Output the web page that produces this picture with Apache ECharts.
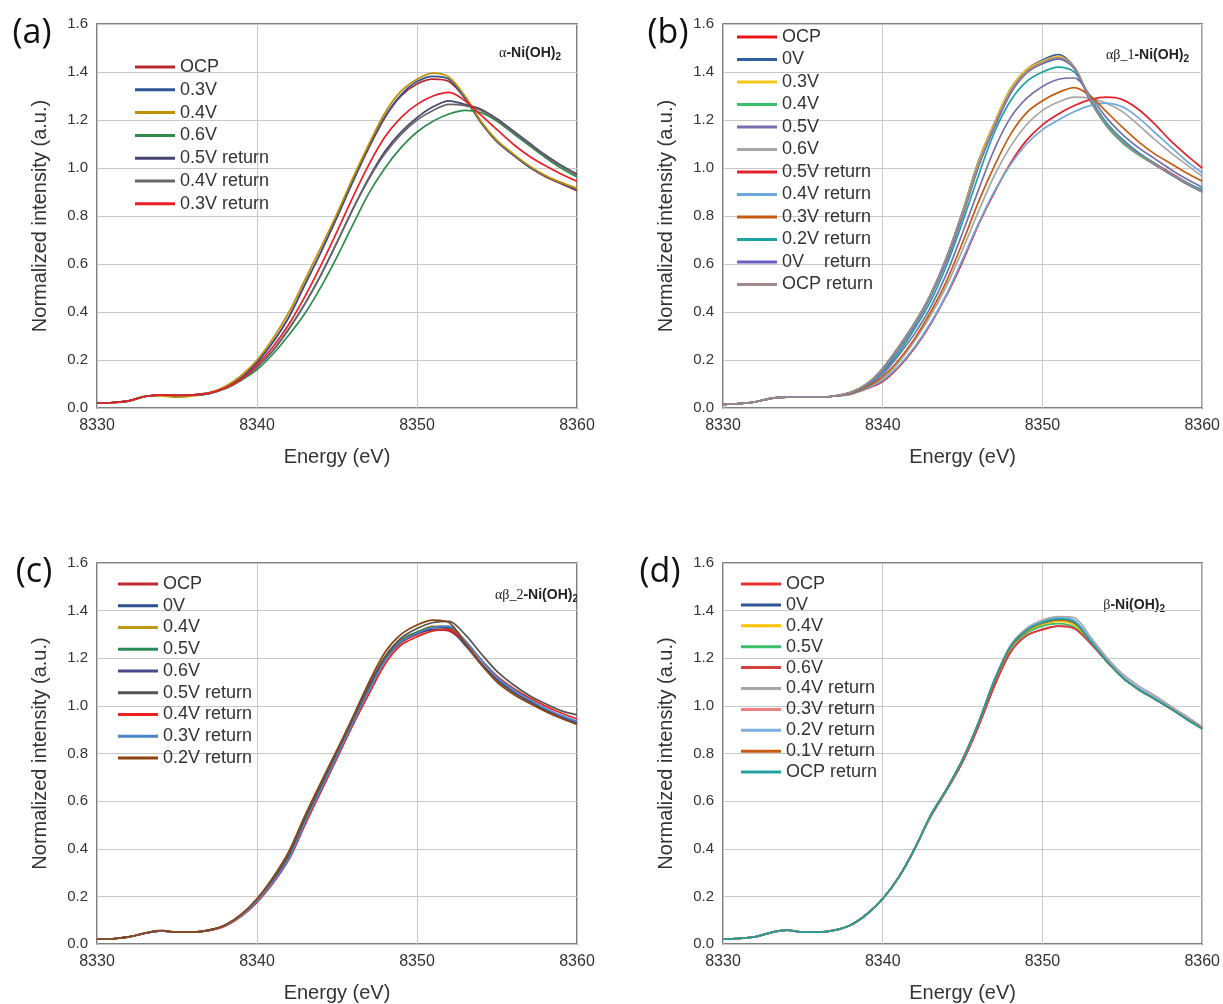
<!DOCTYPE html>
<html>
<head>
<meta charset="utf-8">
<script src="https://cdn.jsdelivr.net/npm/echarts@6/dist/echarts.min.js"></script>
<style>
  html, body { margin: 0; padding: 0; background: #fff; }
  #chart { width: 1223px; height: 1004px; }
</style>
</head>
<body>
<div id="chart"></div>
<script>
// energy axis (eV), shared by all four panels
const energy = [8330,8331,8332,8333,8334,8335,8336,8337,8338,8339,8340,8341,8342,8343,8344,8345,8346,8347,8348,8349,8350,8351,8352,8353,8354,8355,8356,8357,8358,8359,8360];
const xTicks = [8330, 8340, 8350, 8360];

// (a) alpha-Ni(OH)2
const aNames = ['OCP','0.3V','0.4V','0.6V','0.5V return','0.4V return','0.3V return'];
const aOCP = [0.02,0.023,0.03,0.048,0.055,0.05,0.055,0.063,0.085,0.125,0.19,0.275,0.38,0.515,0.65,0.795,0.945,1.085,1.21,1.3,1.35,1.37,1.36,1.29,1.19,1.11,1.055,1.005,0.965,0.935,0.905];
const aV03 = [0.02,0.023,0.03,0.048,0.055,0.05,0.055,0.063,0.085,0.125,0.19,0.275,0.38,0.515,0.65,0.795,0.945,1.09,1.215,1.305,1.36,1.382,1.37,1.29,1.19,1.11,1.055,1.005,0.967,0.937,0.91];
const aV04 = [0.02,0.023,0.03,0.05,0.05,0.045,0.05,0.063,0.09,0.135,0.2,0.29,0.4,0.535,0.67,0.81,0.96,1.1,1.23,1.32,1.37,1.395,1.378,1.3,1.195,1.115,1.06,1.01,0.97,0.94,0.915];
const aV06 = [0.02,0.023,0.03,0.048,0.055,0.055,0.055,0.06,0.08,0.115,0.16,0.225,0.305,0.395,0.505,0.63,0.765,0.895,1.0,1.085,1.15,1.195,1.225,1.24,1.23,1.195,1.145,1.095,1.045,1.0,0.962];
const aR05 = [0.02,0.023,0.03,0.048,0.055,0.055,0.055,0.06,0.082,0.12,0.17,0.24,0.33,0.435,0.555,0.69,0.83,0.96,1.07,1.15,1.21,1.255,1.28,1.265,1.245,1.205,1.155,1.105,1.055,1.012,0.975];
const aR04 = [0.02,0.023,0.03,0.048,0.055,0.055,0.055,0.06,0.082,0.12,0.17,0.24,0.33,0.435,0.555,0.69,0.83,0.955,1.06,1.14,1.2,1.24,1.265,1.26,1.24,1.2,1.15,1.1,1.05,1.008,0.97];
const aR03 = [0.02,0.023,0.03,0.048,0.055,0.052,0.055,0.062,0.083,0.12,0.18,0.255,0.35,0.465,0.595,0.735,0.88,1.015,1.13,1.21,1.265,1.3,1.315,1.28,1.22,1.16,1.1,1.05,1.01,0.975,0.945];

// (b) alpha-beta_1
const bNames = ['OCP','0V','0.3V','0.4V','0.5V','0.6V','0.5V return','0.4V return','0.3V return','0.2V return','0V    return','OCP return'];
const bOCP = [0.015,0.018,0.025,0.04,0.045,0.045,0.045,0.05,0.065,0.1,0.16,0.25,0.35,0.47,0.625,0.815,1.02,1.185,1.325,1.405,1.44,1.46,1.415,1.28,1.18,1.11,1.06,1.02,0.98,0.94,0.905];
const bV0 = [0.015,0.018,0.025,0.04,0.045,0.045,0.045,0.05,0.065,0.1,0.165,0.255,0.355,0.475,0.63,0.82,1.03,1.19,1.33,1.41,1.45,1.472,1.42,1.285,1.18,1.11,1.06,1.02,0.978,0.94,0.905];
const bV03 = [0.015,0.018,0.025,0.04,0.045,0.045,0.045,0.05,0.065,0.1,0.16,0.25,0.35,0.47,0.625,0.815,1.025,1.19,1.33,1.41,1.445,1.465,1.42,1.285,1.18,1.11,1.06,1.015,0.975,0.935,0.9];
const bV04 = [0.015,0.018,0.025,0.04,0.045,0.045,0.045,0.05,0.065,0.1,0.155,0.245,0.345,0.465,0.62,0.805,1.01,1.175,1.315,1.4,1.435,1.455,1.415,1.28,1.175,1.105,1.055,1.015,0.975,0.935,0.9];
const bV05 = [0.015,0.018,0.025,0.04,0.045,0.045,0.045,0.05,0.062,0.09,0.14,0.22,0.31,0.42,0.56,0.73,0.91,1.08,1.21,1.29,1.34,1.37,1.375,1.3,1.21,1.14,1.085,1.04,0.995,0.955,0.92];
const bV06 = [0.015,0.018,0.025,0.04,0.045,0.045,0.045,0.05,0.06,0.085,0.12,0.19,0.28,0.385,0.51,0.66,0.82,0.97,1.09,1.18,1.24,1.275,1.295,1.29,1.27,1.235,1.18,1.12,1.065,1.015,0.965];
const bR05 = [0.015,0.018,0.025,0.04,0.045,0.045,0.045,0.05,0.058,0.08,0.11,0.17,0.25,0.35,0.47,0.61,0.765,0.9,1.02,1.115,1.18,1.225,1.26,1.285,1.295,1.285,1.245,1.185,1.115,1.055,1.0];
const bR04 = [0.015,0.018,0.025,0.04,0.045,0.045,0.045,0.05,0.058,0.082,0.115,0.175,0.255,0.355,0.475,0.62,0.77,0.905,1.015,1.1,1.16,1.2,1.235,1.26,1.27,1.255,1.21,1.15,1.09,1.03,0.98];
const bR03 = [0.015,0.018,0.025,0.04,0.045,0.045,0.045,0.05,0.06,0.088,0.13,0.2,0.29,0.4,0.53,0.69,0.86,1.01,1.14,1.23,1.28,1.315,1.335,1.3,1.235,1.17,1.11,1.06,1.02,0.98,0.945];
const bR02 = [0.015,0.018,0.025,0.04,0.045,0.045,0.045,0.05,0.063,0.095,0.15,0.23,0.33,0.445,0.595,0.775,0.97,1.15,1.28,1.36,1.4,1.42,1.4,1.29,1.19,1.12,1.065,1.02,0.975,0.94,0.91];
const bR0 = [0.015,0.018,0.025,0.04,0.045,0.045,0.045,0.05,0.064,0.098,0.155,0.245,0.345,0.465,0.615,0.8,1.005,1.17,1.31,1.395,1.435,1.455,1.415,1.28,1.18,1.11,1.06,1.015,0.975,0.935,0.9];
const bROCP = [0.015,0.018,0.025,0.04,0.045,0.045,0.045,0.05,0.065,0.1,0.16,0.25,0.35,0.47,0.625,0.81,1.015,1.18,1.32,1.4,1.44,1.46,1.42,1.285,1.18,1.11,1.058,1.018,0.978,0.938,0.902];

// (c) alpha-beta_2
const cNames = ['OCP','0V','0.4V','0.5V','0.6V','0.5V return','0.4V return','0.3V return','0.2V return'];
const cOCP = [0.02,0.022,0.03,0.045,0.055,0.05,0.05,0.058,0.078,0.12,0.185,0.265,0.37,0.52,0.66,0.8,0.935,1.07,1.19,1.265,1.3,1.32,1.315,1.26,1.18,1.11,1.06,1.02,0.985,0.955,0.93];
const cV0 = [0.02,0.022,0.03,0.045,0.055,0.05,0.05,0.058,0.078,0.12,0.185,0.265,0.37,0.52,0.66,0.8,0.94,1.075,1.195,1.27,1.305,1.32,1.32,1.255,1.175,1.105,1.055,1.015,0.98,0.95,0.925];
const cV04 = [0.02,0.022,0.03,0.045,0.055,0.05,0.05,0.058,0.08,0.122,0.19,0.275,0.385,0.535,0.67,0.81,0.95,1.09,1.21,1.28,1.31,1.335,1.33,1.26,1.175,1.105,1.055,1.015,0.98,0.95,0.925];
const cV05 = [0.02,0.022,0.03,0.045,0.055,0.05,0.05,0.058,0.078,0.12,0.185,0.27,0.375,0.525,0.665,0.8,0.94,1.08,1.2,1.275,1.31,1.33,1.33,1.26,1.18,1.11,1.06,1.018,0.982,0.952,0.928];
const cV06 = [0.02,0.022,0.03,0.045,0.055,0.05,0.05,0.058,0.078,0.12,0.185,0.265,0.37,0.52,0.66,0.8,0.935,1.075,1.195,1.27,1.305,1.33,1.325,1.26,1.18,1.11,1.06,1.02,0.985,0.953,0.928];
const cR05 = [0.02,0.022,0.03,0.045,0.055,0.05,0.05,0.058,0.078,0.12,0.185,0.27,0.375,0.525,0.665,0.805,0.945,1.085,1.205,1.285,1.325,1.35,1.355,1.3,1.22,1.145,1.09,1.045,1.01,0.98,0.962];
const cR04 = [0.02,0.022,0.03,0.045,0.055,0.05,0.05,0.056,0.075,0.115,0.175,0.255,0.355,0.5,0.64,0.78,0.92,1.05,1.175,1.255,1.29,1.315,1.32,1.27,1.195,1.125,1.075,1.035,1.0,0.97,0.945];
const cR03 = [0.02,0.022,0.03,0.045,0.055,0.05,0.05,0.057,0.077,0.118,0.18,0.26,0.36,0.51,0.65,0.79,0.93,1.065,1.19,1.27,1.305,1.33,1.335,1.275,1.195,1.12,1.07,1.028,0.99,0.96,0.935];
const cR02 = [0.02,0.022,0.03,0.047,0.057,0.05,0.05,0.058,0.08,0.124,0.19,0.28,0.39,0.54,0.68,0.815,0.955,1.1,1.225,1.3,1.34,1.36,1.35,1.265,1.175,1.1,1.05,1.012,0.978,0.948,0.922];

// (d) beta-Ni(OH)2
const dNames = ['OCP','0V','0.4V','0.5V','0.6V','0.4V return','0.3V return','0.2V return','0.1V return','OCP return'];
const dOCP = [0.02,0.024,0.03,0.048,0.058,0.05,0.05,0.058,0.08,0.125,0.19,0.28,0.4,0.535,0.645,0.765,0.915,1.085,1.225,1.295,1.32,1.335,1.325,1.265,1.19,1.12,1.07,1.03,0.99,0.948,0.91];
const dV0 = [0.02,0.024,0.03,0.048,0.058,0.05,0.05,0.058,0.08,0.125,0.19,0.28,0.4,0.54,0.65,0.775,0.93,1.11,1.25,1.315,1.345,1.36,1.345,1.27,1.19,1.12,1.07,1.03,0.99,0.945,0.905];
const dV04 = [0.02,0.024,0.03,0.048,0.058,0.05,0.05,0.058,0.08,0.125,0.19,0.28,0.4,0.54,0.65,0.775,0.93,1.105,1.245,1.31,1.34,1.355,1.34,1.268,1.19,1.12,1.07,1.03,0.99,0.945,0.905];
const dV05 = [0.02,0.024,0.03,0.048,0.058,0.05,0.05,0.058,0.08,0.125,0.19,0.28,0.4,0.54,0.65,0.775,0.93,1.1,1.24,1.305,1.335,1.345,1.33,1.265,1.19,1.12,1.07,1.03,0.99,0.945,0.905];
const dV06 = [0.02,0.024,0.03,0.048,0.058,0.05,0.05,0.058,0.08,0.125,0.19,0.28,0.4,0.535,0.645,0.765,0.915,1.085,1.225,1.295,1.322,1.335,1.325,1.262,1.188,1.12,1.07,1.03,0.99,0.947,0.908];
const dR04 = [0.02,0.024,0.03,0.048,0.058,0.05,0.05,0.058,0.08,0.125,0.19,0.28,0.4,0.54,0.65,0.775,0.93,1.11,1.255,1.325,1.36,1.375,1.37,1.29,1.205,1.135,1.085,1.045,1.0,0.958,0.912];
const dR03 = [0.02,0.024,0.03,0.048,0.058,0.05,0.05,0.058,0.08,0.125,0.19,0.28,0.4,0.54,0.65,0.775,0.93,1.105,1.245,1.315,1.35,1.365,1.355,1.278,1.195,1.125,1.075,1.035,0.995,0.95,0.91];
const dR02 = [0.02,0.024,0.03,0.048,0.058,0.05,0.05,0.058,0.08,0.125,0.19,0.28,0.4,0.54,0.65,0.775,0.93,1.11,1.25,1.32,1.355,1.37,1.36,1.28,1.195,1.125,1.075,1.035,0.993,0.95,0.907];
const dR01 = [0.02,0.024,0.03,0.048,0.058,0.05,0.05,0.058,0.08,0.125,0.19,0.28,0.4,0.54,0.65,0.775,0.93,1.105,1.245,1.315,1.35,1.362,1.35,1.272,1.19,1.12,1.07,1.03,0.99,0.946,0.905];
const dROCP = [0.02,0.024,0.03,0.048,0.058,0.05,0.05,0.058,0.08,0.125,0.19,0.28,0.4,0.54,0.65,0.775,0.93,1.11,1.25,1.318,1.35,1.365,1.352,1.272,1.19,1.12,1.07,1.03,0.99,0.945,0.903];

const aColors = ['#b8292f','#2f5597','#bf9000','#2e8b4a','#46446e','#666666','#ee1c25'];
const bColors = ['#e8141b','#2f5fa0','#f5c518','#3cbf6a','#7670b0','#a6a6a6','#e4202a','#6fa8dc','#c55a11','#1aa3a3','#6b5fc5','#a28a8a'];
const cColors = ['#c0282f','#2f4f8f','#bf9a1a','#2e8b57','#4a4a8a','#555555','#ee2020','#4a86c5','#8b4513'];
const dColors = ['#e62e2e','#2f5597','#ffc000','#3cbf6a','#d43f3f','#a6a6a6','#f08080','#7ab0e0','#c55a11','#20a0a0'];

const panels = [
  { key: 'a', names: aNames, rows: [aOCP,aV03,aV04,aV06,aR05,aR04,aR03], colors: aColors,
    grid: [97, 24], legend: [135, 57, 2.8], tag: [32, 33],
    label: '{g|α}{b|-Ni(OH)}{s|2}', labelPos: [561, 53] },
  { key: 'b', names: bNames, rows: [bOCP,bV0,bV03,bV04,bV05,bV06,bR05,bR04,bR03,bR02,bR0,bROCP], colors: bColors,
    grid: [723, 24], legend: [737, 27, 2.5], tag: [668, 33],
    label: '{g|αβ_1}{b|-Ni(OH)}{s|2}', labelPos: [1189, 55] },
  { key: 'c', names: cNames, rows: [cOCP,cV0,cV04,cV05,cV06,cR05,cR04,cR03,cR02], colors: cColors,
    grid: [97, 563], legend: [118, 574, 1.75], tag: [34, 572],
    label: '{g|αβ_2}{b|-Ni(OH)}{s|2}', labelPos: [578, 595] },
  { key: 'd', names: dNames, rows: [dOCP,dV0,dV04,dV05,dV06,dR04,dR03,dR02,dR01,dROCP], colors: dColors,
    grid: [723, 563], legend: [741, 574, 0.9], tag: [660, 572],
    label: '{g|β}{b|-Ni(OH)}{s|2}', labelPos: [1165, 605] }
];

const font = '"Liberation Sans", Arial, sans-serif';
const chart = echarts.init(document.getElementById('chart'), null, { renderer: 'canvas' });

const grids = [], xAxes = [], yAxes = [], series = [], legends = [], graphics = [];
panels.forEach((p, i) => {
  grids.push({
    left: p.grid[0], top: p.grid[1], width: 480, height: 384,
    show: true, borderColor: '#555', borderWidth: 1.5, backgroundColor: 'transparent'
  });
  xAxes.push({
    gridIndex: i, type: 'value', min: xTicks[0], max: xTicks[xTicks.length - 1], interval: 10,
    name: 'Energy (eV)', nameLocation: 'middle', nameGap: 39,
    nameTextStyle: { fontSize: 20, color: '#333', fontFamily: font },
    axisLine: { show: false }, axisTick: { show: false },
    axisLabel: { fontSize: 16, color: '#333', fontFamily: font, margin: 10, formatter: v => String(v) },
    splitLine: { lineStyle: { color: '#c8c8c8', width: 1 } }
  });
  yAxes.push({
    gridIndex: i, type: 'value', min: 0, max: 1.6, interval: 0.2,
    name: 'Normalized intensity (a.u.)', nameLocation: 'middle', nameGap: 47, nameRotate: 90,
    nameTextStyle: { fontSize: 20, color: '#333', fontFamily: font },
    axisLine: { show: false }, axisTick: { show: false },
    axisLabel: { fontSize: 15, color: '#333', fontFamily: font, margin: 9, formatter: v => v.toFixed(1) },
    splitLine: { lineStyle: { color: '#c8c8c8', width: 1 } }
  });
  p.rows.forEach((row, j) => {
    series.push({
      name: p.key + ':' + p.names[j],
      type: 'line', xAxisIndex: i, yAxisIndex: i,
      data: energy.map((e, k) => [e, row[k]]),
      symbol: 'none', smooth: 0.3,
      color: p.colors[j],
      lineStyle: { width: 1.7, color: p.colors[j] }
    });
  });
  legends.push({
    orient: 'vertical', left: p.legend[0], top: p.legend[1],
    icon: 'rect', itemWidth: 40, itemHeight: 3, itemGap: p.legend[2],
    selectedMode: false, padding: 0,
    data: p.names.map(n => p.key + ':' + n),
    formatter: n => n.slice(2),
    textStyle: { fontSize: 18, lineHeight: 20, color: '#333', fontFamily: font }
  });
  graphics.push({
    type: 'text', x: p.tag[0], y: p.tag[1],
    style: { text: '(' + p.key + ')', fontSize: 34, fontFamily: '"Open Sans", sans-serif', fill: '#111', align: 'center', verticalAlign: 'middle' }
  });
  graphics.push({
    type: 'text', x: p.labelPos[0], y: p.labelPos[1],
    style: {
      text: p.label, align: 'right', verticalAlign: 'middle', fill: '#222',
      rich: {
        g: { fontFamily: '"Liberation Serif", serif', fontSize: 14, fill: '#222' },
        b: { fontFamily: font, fontWeight: 'bold', fontSize: 14, fill: '#222' },
        s: { fontFamily: font, fontWeight: 'bold', fontSize: 10, fill: '#222', padding: [8, 0, 0, 0] }
      }
    }
  });
});

chart.setOption({
  animation: false,
  backgroundColor: '#fff',
  grid: grids, xAxis: xAxes, yAxis: yAxes,
  legend: legends, series: series, graphic: graphics
});
</script>
</body>
</html>
